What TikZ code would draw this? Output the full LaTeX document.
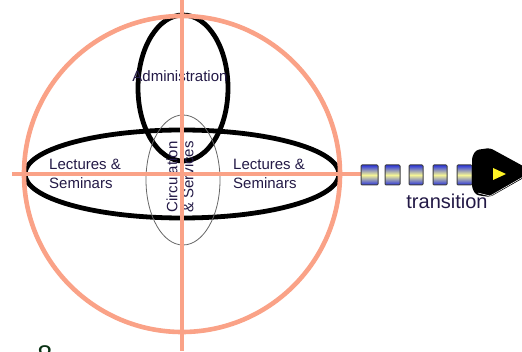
\documentclass[tikz,border=0pt]{standalone}
\usepackage{fontspec}
\setmainfont{Liberation Sans}
\definecolor{salmon}{RGB}{250,162,135}
\definecolor{navy}{RGB}{35,25,70}
\definecolor{dashblue}{RGB}{40,50,220}
\definecolor{dashyellow}{RGB}{245,245,150}
\definecolor{darkgreen}{RGB}{10,50,20}
\tikzset{
  pinkline/.style={draw=salmon, line width=4.6pt},
  blackring/.style={draw=black, line width=4.8pt},
  greyring/.style={draw=black!60, line width=0.8pt},
  lbl/.style={text=navy, font=\fontsize{15}{19}\selectfont, inner sep=0pt},
  dashbox/.style={draw=black!75, line width=1pt, rounded corners=1pt,
    top color=dashblue, bottom color=dashblue, middle color=dashyellow}
}
\begin{document}
\begin{tikzpicture}[x=1pt,y=-1pt]
\useasboundingbox (0,0) rectangle (522,352);
% black ellipses
\draw[blackring] (183,88) ellipse [x radius=45pt, y radius=73pt];
\draw[blackring] (182,174) ellipse [x radius=157pt, y radius=44pt];
\draw[greyring] (183,180) ellipse [x radius=37pt, y radius=65pt];
% labels
\node[lbl] (admin) at (180,76) {Administration};
\node[lbl, anchor=west, align=left] (lecl) at (49,174) {Lectures \&\\Seminars};
\node[lbl, anchor=west, align=left] (lecr) at (233,174) {Lectures \&\\Seminars};
\node[lbl, rotate=90, align=center, font=\fontsize{15}{16}\selectfont] (circ) at (180,177) {Circulation\\\& Services};
% pink circle and axes
\draw[pinkline] (182,174) circle [radius=158pt];
\coordinate (vtop) at (182,0);
\coordinate (vbot) at (182,351);
\coordinate (hleft) at (12,174);
\coordinate (hright) at (372,174);
\draw[pinkline] (vtop) -- (vbot);
\draw[pinkline] (hleft) -- (hright);
% transition arrow
\foreach \a/\b in {361/378,385/400,409/423,433/447,457/472}{
  \path[dashbox] (\a,165) rectangle (\b,185);
}
\fill[black, rounded corners=3pt] (472,157) -- (476,150) -- (490,148) -- (534,172) -- (490,197) -- (476,195) -- (472,188) -- cycle;
\draw[white, line width=0.5pt] (478,193) -- (490,196) -- (530,173);
\fill[yellow!85!white] (493,168) -- (506,174) -- (493,180) -- cycle;
\node[text=navy, font=\fontsize{20}{24}\selectfont, inner sep=0pt] (trans) at (447,201) {transition};
% page number (cut off at the lower edge, as in the reference)
\node[text=darkgreen, font=\fontsize{27}{30}\selectfont, inner sep=0pt, anchor=north] (pg) at (45,345) {8};
\end{tikzpicture}
\end{document}
